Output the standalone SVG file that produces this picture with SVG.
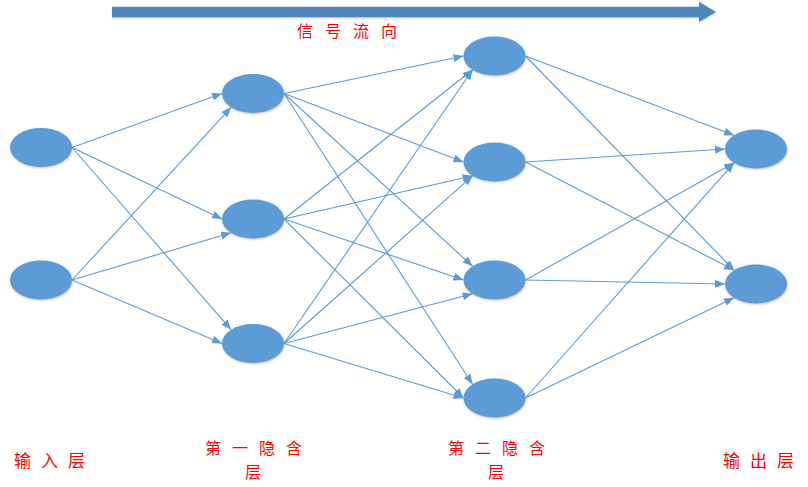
<svg xmlns="http://www.w3.org/2000/svg" width="808" height="487" viewBox="0 0 808 487">
<style>
.node{fill:#5B9BD5;filter:url(#sh);}
.edge{stroke:#5B9BD5;stroke-width:1.1;fill:none;marker-end:url(#ah);}
.lbl{font-family:"Noto Sans CJK SC","Noto Sans",sans-serif;font-size:17px;fill:#FF0000;letter-spacing:10px;}
.lbl2{font-size:16px;letter-spacing:11px;}
</style>
<defs>
<marker id="ah" markerUnits="userSpaceOnUse" markerWidth="10" markerHeight="8" refX="10" refY="4" orient="auto">
<path d="M0,0 L10,4 L0,8 z" fill="#5B9BD5"/>
</marker>
<filter id="sh" x="-20%" y="-20%" width="140%" height="150%">
<feDropShadow dx="0.5" dy="1" stdDeviation="1" flood-color="#777" flood-opacity="0.45"/>
</filter>
<filter id="sh2" x="-5%" y="-50%" width="110%" height="200%">
<feDropShadow dx="0.5" dy="1" stdDeviation="0.8" flood-color="#888" flood-opacity="0.4"/>
</filter>
</defs>
<g id="flow-arrow">
<path d="M112,6.7 L699,6.7 L699,1.7 L716,12 L699,22 L699,17.3 L112,17.3 z" fill="#4F87BD" filter="url(#sh2)"/>
<text x="297" y="37" class="lbl" style="font-size:16px;letter-spacing:12px">信号流向</text>
</g>
<g id="connectors">
<line class="edge" x1="72" y1="147.5" x2="222" y2="93.5"/>
<line class="edge" x1="72" y1="147.5" x2="222" y2="219"/>
<line class="edge" x1="72" y1="147.5" x2="231.1" y2="329.7"/>
<line class="edge" x1="72" y1="280" x2="231.1" y2="107.3"/>
<line class="edge" x1="72" y1="280" x2="231.1" y2="232.8"/>
<line class="edge" x1="72" y1="280" x2="222" y2="343.5"/>
<line class="edge" x1="284" y1="93.5" x2="463.5" y2="56"/>
<line class="edge" x1="284" y1="93.5" x2="463.5" y2="162"/>
<line class="edge" x1="284" y1="93.5" x2="472.6" y2="266.2"/>
<line class="edge" x1="284" y1="93.5" x2="472.6" y2="384.2"/>
<line class="edge" x1="284" y1="219" x2="472.6" y2="69.8"/>
<line class="edge" x1="284" y1="219" x2="472.6" y2="175.8"/>
<line class="edge" x1="284" y1="219" x2="463.5" y2="280"/>
<line class="edge" x1="284" y1="219" x2="463.5" y2="398"/>
<line class="edge" x1="284" y1="343.5" x2="472.6" y2="69.8"/>
<line class="edge" x1="284" y1="343.5" x2="472.6" y2="175.8"/>
<line class="edge" x1="284" y1="343.5" x2="472.6" y2="293.8"/>
<line class="edge" x1="284" y1="343.5" x2="463.5" y2="398"/>
<line class="edge" x1="525.5" y1="56" x2="734.1" y2="135.2"/>
<line class="edge" x1="525.5" y1="56" x2="734.1" y2="270.2"/>
<line class="edge" x1="525.5" y1="162" x2="725" y2="149"/>
<line class="edge" x1="525.5" y1="162" x2="734.1" y2="270.2"/>
<line class="edge" x1="525.5" y1="280" x2="734.1" y2="162.8"/>
<line class="edge" x1="525.5" y1="280" x2="725" y2="284"/>
<line class="edge" x1="525.5" y1="398" x2="734.1" y2="162.8"/>
<line class="edge" x1="525.5" y1="398" x2="734.1" y2="297.8"/>
</g>
<g id="in1"><ellipse class="node" cx="41" cy="147.5" rx="31" ry="19.5"/></g>
<g id="in2"><ellipse class="node" cx="41" cy="280" rx="31" ry="19.5"/></g>
<g id="h1a"><ellipse class="node" cx="253" cy="93.5" rx="31" ry="19.5"/></g>
<g id="h1b"><ellipse class="node" cx="253" cy="219" rx="31" ry="19.5"/></g>
<g id="h1c"><ellipse class="node" cx="253" cy="343.5" rx="31" ry="19.5"/></g>
<g id="h2a"><ellipse class="node" cx="494.5" cy="56" rx="31" ry="19.5"/></g>
<g id="h2b"><ellipse class="node" cx="494.5" cy="162" rx="31" ry="19.5"/></g>
<g id="h2c"><ellipse class="node" cx="494.5" cy="280" rx="31" ry="19.5"/></g>
<g id="h2d"><ellipse class="node" cx="494.5" cy="398" rx="31" ry="19.5"/></g>
<g id="o1"><ellipse class="node" cx="756" cy="149" rx="31" ry="19.5"/></g>
<g id="o2"><ellipse class="node" cx="756" cy="284" rx="31" ry="19.5"/></g>
<g id="labels">
<text class="lbl" x="14" y="467">输入层</text>
<text class="lbl lbl2" x="205" y="454">第一隐含</text>
<text class="lbl lbl2" x="245" y="478">层</text>
<text class="lbl lbl2" x="448" y="454">第二隐含</text>
<text class="lbl lbl2" x="488" y="478">层</text>
<text class="lbl" x="723" y="467">输出层</text>
</g>
</svg>
